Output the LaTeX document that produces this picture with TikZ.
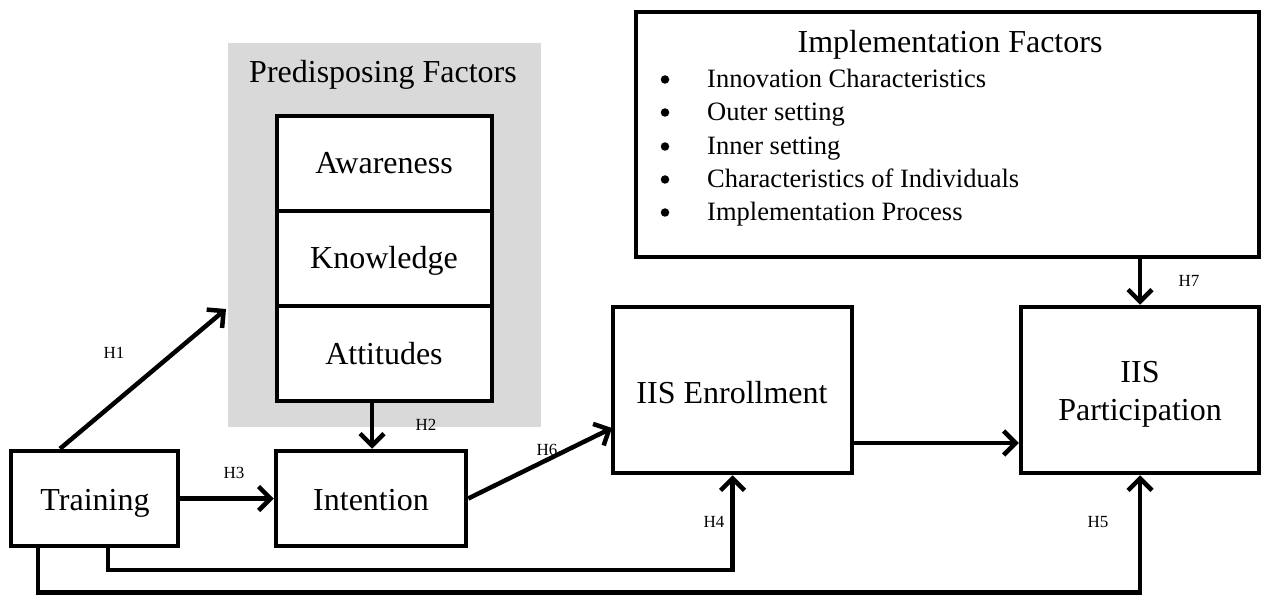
\documentclass[tikz,border=0pt]{standalone}
\usepackage{fontspec}
\setmainfont{Liberation Serif}
\usetikzlibrary{arrows.meta}
\definecolor{graybg}{HTML}{D9D9D9}
\begin{document}
\begin{tikzpicture}[x=1bp,y=-1bp,
  box/.style={draw, fill=white, line width=4.5bp, inner sep=0pt},
  arr/.style={line width=4.5bp, -{Straight Barb[length=12bp,width=24bp]}},
  lbl/.style={font=\fontsize{17bp}{20bp}\selectfont, inner sep=0pt, anchor=base},
  big/.style={font=\fontsize{32bp}{39bp}\selectfont, inner sep=0pt, anchor=base},
  itm/.style={font=\fontsize{26.5bp}{32bp}\selectfont, inner sep=0pt, anchor=base west},
  dot/.style={circle, fill=black, inner sep=0pt, minimum size=8.5bp}]
\useasboundingbox (0,0) rectangle (1262,595);
\fill[white] (0,0) rectangle (1262,595);

% grey predisposing panel
\node[fill=graybg, minimum width=313bp, minimum height=384bp, inner sep=0pt] (pred) at (384.5,235) {};
\node[big] (predt) at (383,83) {Predisposing Factors};

% stack
\node[box, minimum width=215bp, minimum height=95bp] (aw) at (384.5,163.5) {};
\node[box, minimum width=215bp, minimum height=95bp] (kn) at (384.5,258.5) {};
\node[box, minimum width=215bp, minimum height=95bp] (att) at (384.5,353.5) {};
\node[big] (awt) at (384,174) {Awareness};
\node[big] (knt) at (384,269) {Knowledge};
\node[big] (attt) at (384,365) {Attitudes};

% main boxes
\node[box, minimum width=167bp, minimum height=95bp] (train) at (94.5,498.5) {};
\node[big] (traint) at (95,510) {Training};
\node[box, minimum width=190bp, minimum height=95bp] (intent) at (371,498.5) {};
\node[big] (intentt) at (371,510) {Intention};
\node[box, minimum width=239bp, minimum height=166bp] (enroll) at (732.5,390) {};
\node[big] (enrollt) at (732,403) {IIS Enrollment};
\node[box, minimum width=238bp, minimum height=166bp] (part) at (1140,390) {};
\node[big] (partt1) at (1140,382) {IIS};
\node[big] (partt2) at (1140,420) {Participation};

% implementation factors
\node[box, minimum width=623bp, minimum height=245bp] (impl) at (947.5,134.5) {};
\node[big] (implt) at (950,53) {Implementation Factors};
\node[dot] (b1) at (665,79.5) {};
\node[dot] (b2) at (665,112.5) {};
\node[dot] (b3) at (665,146.5) {};
\node[dot] (b4) at (665,179.5) {};
\node[dot] (b5) at (665,212.5) {};
\node[itm] (i1) at (707,87.5) {Innovation Characteristics};
\node[itm] (i2) at (707,120.5) {Outer setting};
\node[itm] (i3) at (707,154.5) {Inner setting};
\node[itm] (i4) at (707,187.5) {Characteristics of Individuals};
\node[itm] (i5) at (707,220.5) {Implementation Process};

% connectors
\coordinate (h1s) at (60,0);
\coordinate (h1end) at (226,309);
\draw[arr] (train.north -| h1s) -- (h1end);

\coordinate (h2x) at (372,0);
\draw[arr] (att.south -| h2x) -- (intent.north -| h2x);

\draw[arr] (train.east) -- (intent.west);

\coordinate (h6end) at (612,428);
\draw[arr] (intent.east) -- (h6end);

\coordinate (eparr) at (0,443);
\draw[arr] (enroll.east |- eparr) -- (part.west |- eparr);

\coordinate (c4) at (108,570);
\draw[arr] (train.south -| c4) -- (c4) -| (enroll.south);

\coordinate (c5) at (38,592.5);
\draw[arr] (train.south -| c5) -- (c5) -| (part.south);

\draw[arr] (impl.south -| part.north) -- (part.north);

% labels
\node[lbl] (H1) at (114,359) {H1};
\node[lbl] (H2) at (426,430) {H2};
\node[lbl] (H3) at (234,478) {H3};
\node[lbl] (H4) at (714,527) {H4};
\node[lbl] (H5) at (1098,527) {H5};
\node[lbl] (H6) at (547,455) {H6};
\node[lbl] (H7) at (1189,287) {H7};
\end{tikzpicture}
\end{document}
